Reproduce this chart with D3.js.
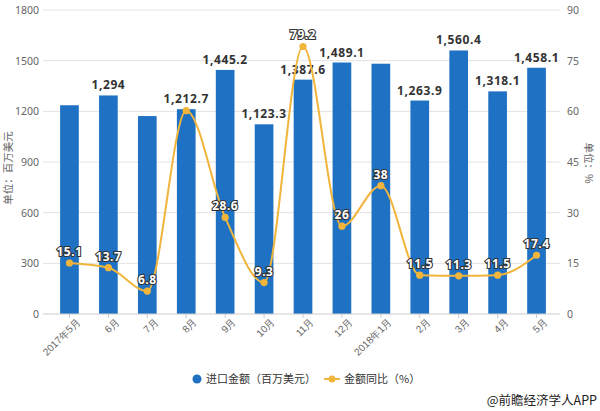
<!DOCTYPE html>
<html><head><meta charset="utf-8">
<script src="https://cdn.jsdelivr.net/npm/d3@7"></script>
<style>body{margin:0;background:#fff}svg{display:block;font-family:"Noto Sans CJK SC","Noto Sans",sans-serif}</style>
</head><body><svg id="c" width="600" height="411"></svg>
<script>
const categories = ["2017年5月","6月","7月","8月","9月","10月","11月","12月","2018年1月","2月","3月","4月","5月"];
const importValues = [1236, 1294, 1172, 1212.7, 1445.2, 1123.3, 1387.6, 1489.1, 1482, 1263.9, 1560.4, 1318.1, 1458.1];
const yoyValues = [15.1, 13.7, 6.8, 60.2, 28.6, 9.3, 79.2, 26, 38, 11.5, 11.3, 11.5, 17.4];
const barLabelShown = [false, true, false, true, true, true, true, true, false, true, true, true, true];
const lineLabelShown = [true, true, true, false, true, true, true, true, true, true, true, true, true];
const leftTicks = [0, 300, 600, 900, 1200, 1500, 1800];
const rightTicks = [0, 15, 30, 45, 60, 75, 90];

const svg = d3.select("#c");
const BAR = "#1f72c3", LINE = "#f0b53a";
const x = d3.scaleBand().domain(categories).range([50, 556]).paddingInner(0.52).paddingOuter(0.26);
const yL = d3.scaleLinear().domain([0, 1800]).range([314, 10]);
const yR = d3.scaleLinear().domain([0, 90]).range([314, 10]);

// gridlines
svg.append("g").selectAll("line").data(leftTicks.slice(1)).join("line")
  .attr("x1", 43).attr("x2", 560).attr("y1", d => yL(d)).attr("y2", d => yL(d))
  .attr("stroke", "#e3e3e3").attr("stroke-width", 1);

// left axis
const gl = svg.append("g").attr("transform", "translate(43,0)")
  .call(d3.axisLeft(yL).tickValues(leftTicks).tickSize(0).tickPadding(4).tickFormat(d3.format("d")));
gl.select(".domain").remove();
gl.selectAll("text").attr("fill", "#666").style("font-size", "10.5px").style("font-family", "Noto Sans, sans-serif");

// right axis
const gr = svg.append("g").attr("transform", "translate(560,0)")
  .call(d3.axisRight(yR).tickValues(rightTicks).tickSize(0).tickPadding(7));
gr.select(".domain").remove();
gr.selectAll("text").attr("fill", "#666").style("font-size", "10.5px").style("font-family", "Noto Sans, sans-serif");

// axis titles
svg.append("text").attr("transform", "translate(12,168) rotate(-90)").attr("text-anchor", "middle")
  .attr("fill", "#666").style("font-size", "10.5px").text("单位：百万美元");
svg.append("text").attr("transform", "translate(585,163) rotate(90)").attr("text-anchor", "middle")
  .attr("fill", "#666").style("font-size", "10.5px").text("单位：%");

// bars
svg.append("g").selectAll("rect").data(importValues).join("rect")
  .attr("x", (d, i) => x(categories[i])).attr("width", x.bandwidth())
  .attr("y", d => yL(d)).attr("height", d => yL(0) - yL(d)).attr("fill", BAR);

// bottom axis
const gb = svg.append("g").attr("transform", "translate(0,314)")
  .call(d3.axisBottom(x).tickSize(4).tickPadding(4));
gb.select(".domain").attr("d", "M43,0H560").attr("stroke", "#ccc");
gb.selectAll(".tick line").attr("stroke", "#ccc");
gb.selectAll("text").attr("fill", "#666").style("font-size", "10px")
  .attr("text-anchor", "end").attr("dx", "0.2em").attr("dy", "0.6em")
  .attr("transform", "rotate(-45)");

// bar labels
svg.append("g").selectAll("text").data(importValues.map((v, i) => ({v, i})).filter(d => barLabelShown[d.i])).join("text")
  .attr("x", d => x(categories[d.i]) + x.bandwidth() / 2)
  .attr("y", d => yL(d.v) - 6).attr("text-anchor", "middle")
  .attr("fill", "#333").style("font-size", "12px").style("font-weight", "bold")
  .style("letter-spacing", "0.6px").style("font-family", "Noto Sans, sans-serif")
  .text(d => d3.format(",")(d.v));

// line
const cx = i => x(categories[i]) + x.bandwidth() / 2;
const line = d3.line().x((d, i) => cx(i)).y(d => yR(d)).curve(d3.curveMonotoneX);
svg.append("path").datum(yoyValues).attr("d", line).attr("fill", "none")
  .attr("stroke", LINE).attr("stroke-width", 2);
svg.append("g").selectAll("circle").data(yoyValues).join("circle")
  .attr("cx", (d, i) => cx(i)).attr("cy", d => yR(d)).attr("r", 3.6).attr("fill", LINE);

// line labels
svg.append("g").selectAll("text").data(yoyValues.map((v, i) => ({v, i})).filter(d => lineLabelShown[d.i])).join("text")
  .attr("x", d => cx(d.i)).attr("y", d => yR(d.v) - 7).attr("text-anchor", "middle")
  .style("font-size", "12px").style("font-weight", "bold").style("font-family", "Noto Sans, sans-serif")
  .attr("fill", "#fff").attr("stroke", "#333").attr("stroke-width", 2.2).attr("paint-order", "stroke")
  .style("letter-spacing", "0.5px")
  .text(d => d.v);

// legend
const lg = svg.append("g");
lg.append("circle").attr("cx", 197).attr("cy", 379).attr("r", 4.5).attr("fill", BAR);
lg.append("text").attr("x", 206).attr("y", 383).attr("fill", "#333").style("font-size", "11px").text("进口金额（百万美元）");
lg.append("line").attr("x1", 324).attr("x2", 340).attr("y1", 379).attr("y2", 379).attr("stroke", LINE).attr("stroke-width", 2);
lg.append("circle").attr("cx", 332).attr("cy", 379).attr("r", 3.5).attr("fill", LINE);
lg.append("text").attr("x", 344).attr("y", 383).attr("fill", "#333").style("font-size", "11px").text("金额同比（%）");

// source
svg.append("text").attr("x", 597).attr("y", 405).attr("text-anchor", "end").attr("fill", "#222")
  .style("font-size", "12.5px").text("@前瞻经济学人APP");
</script></body></html>
